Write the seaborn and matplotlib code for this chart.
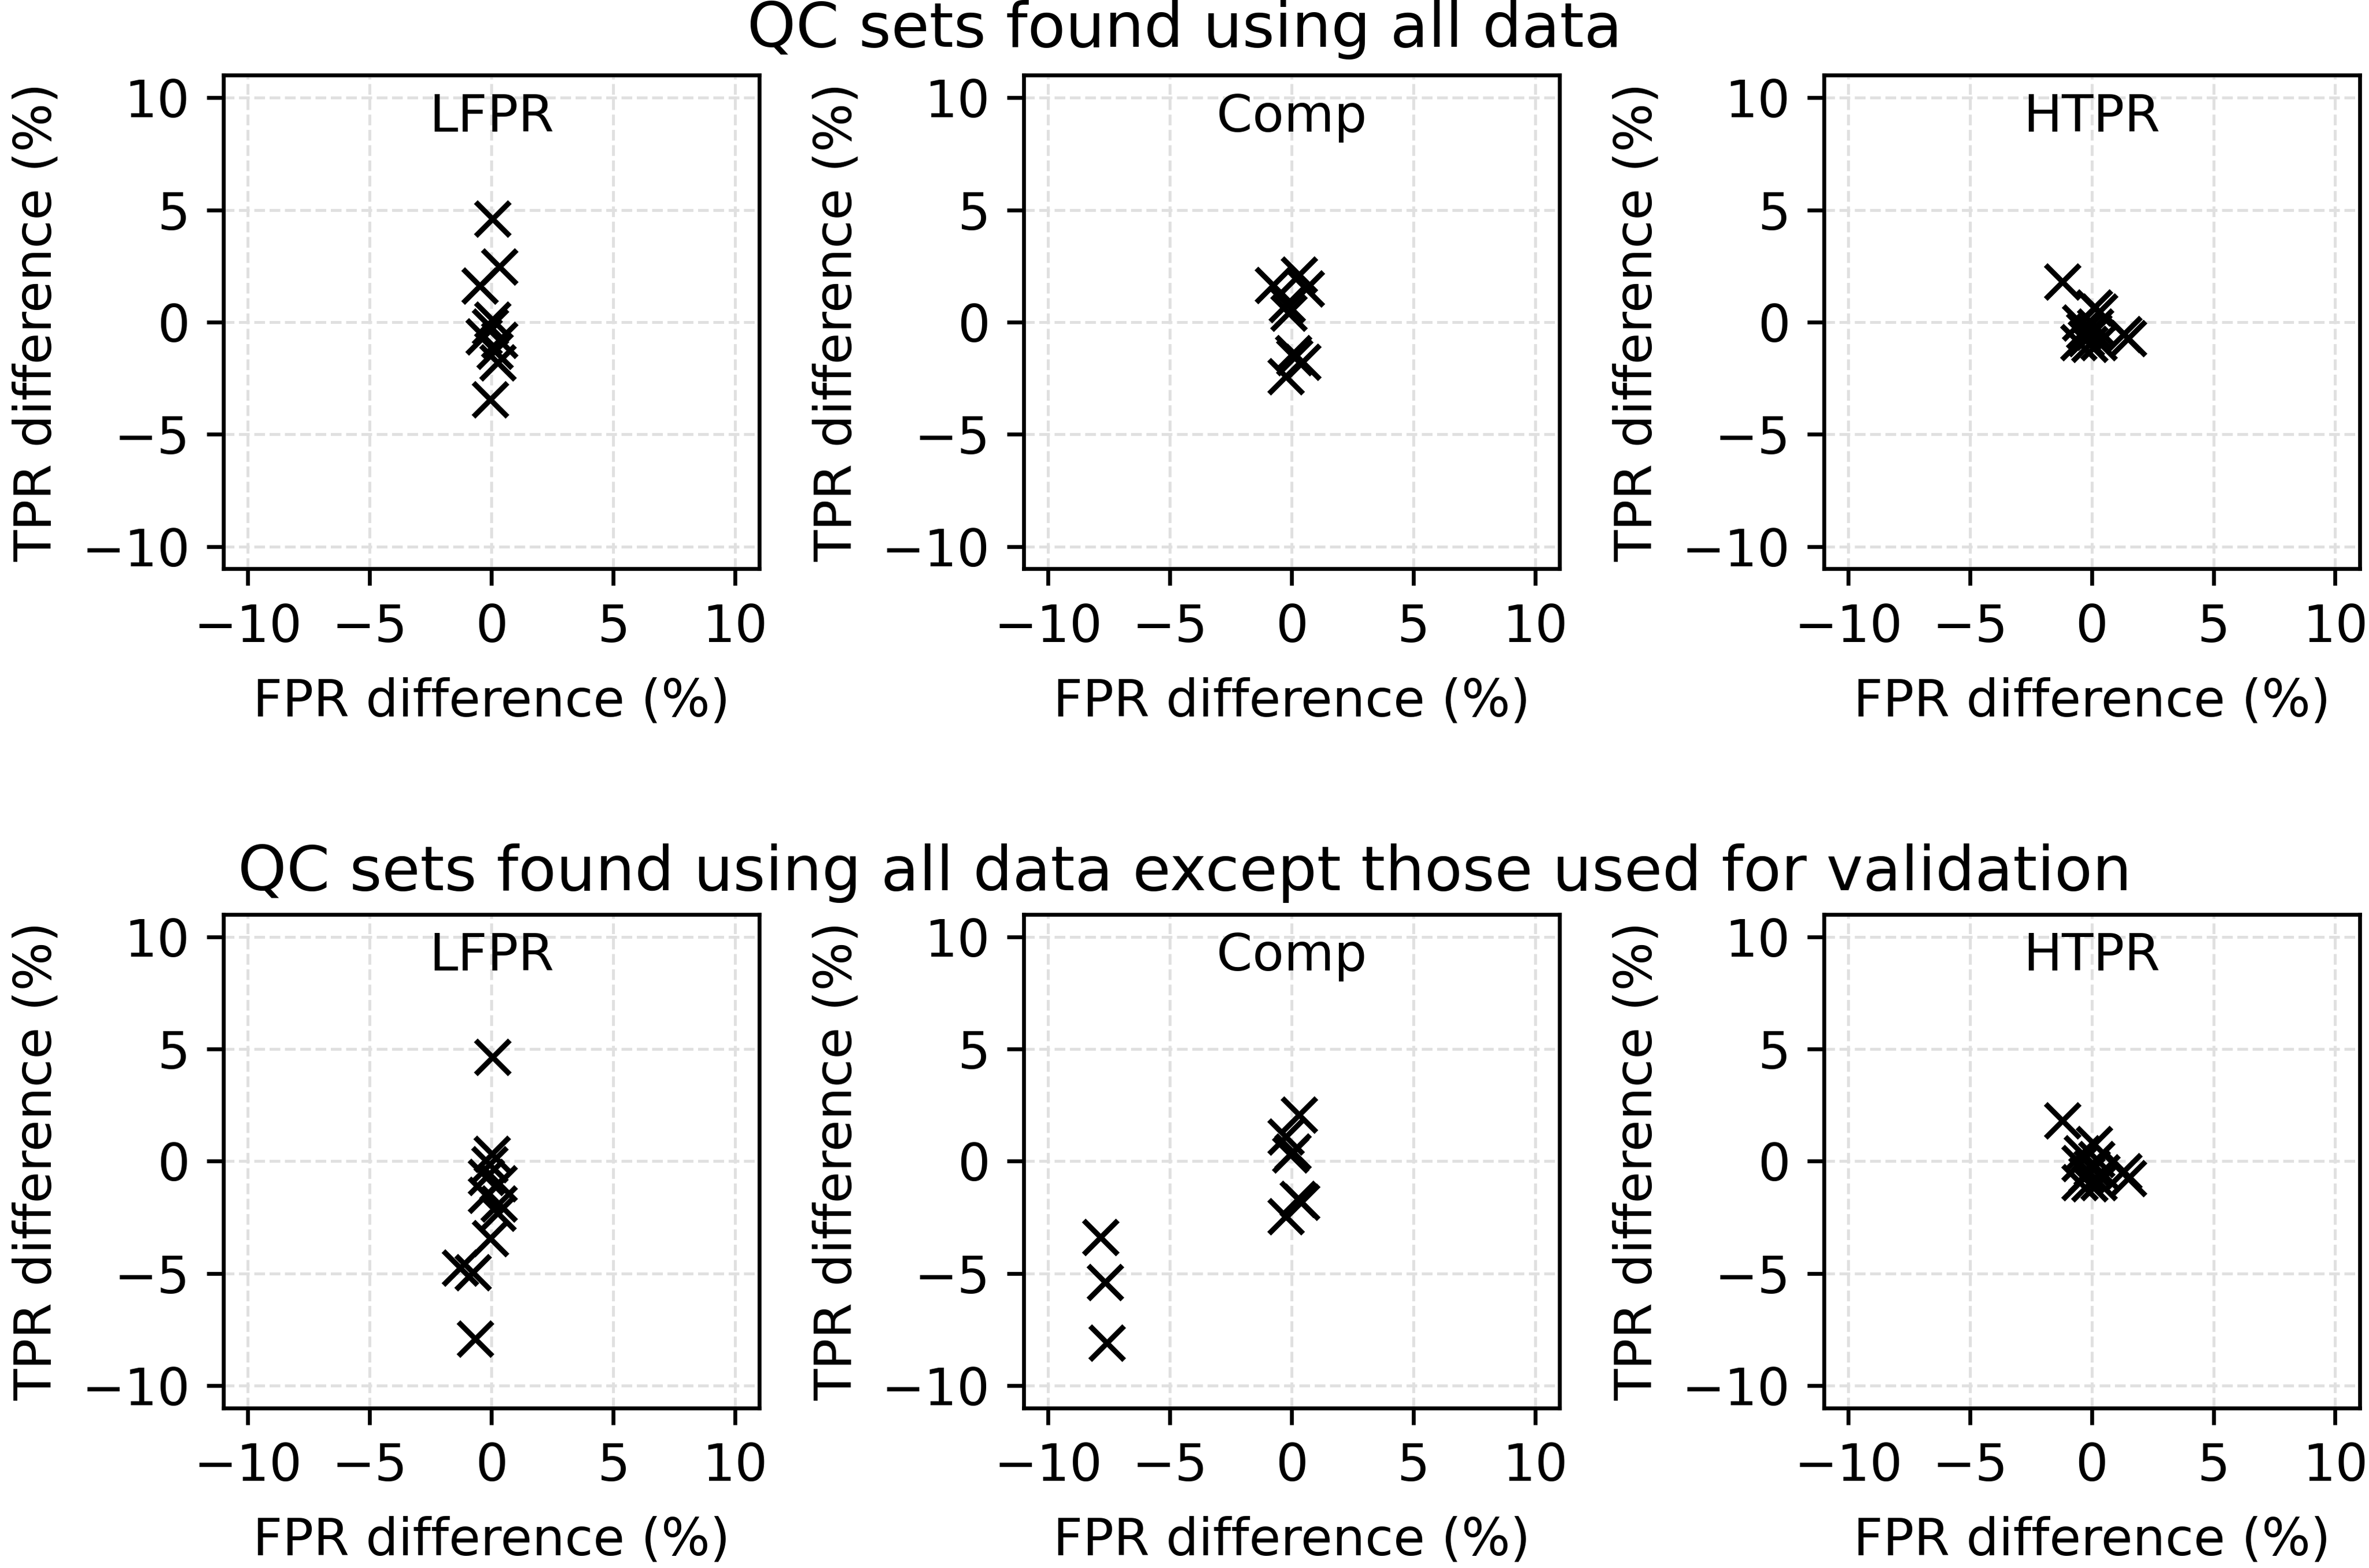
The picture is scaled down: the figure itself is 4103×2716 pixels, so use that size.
import numpy as np
import pandas as pd
import matplotlib
matplotlib.use("Agg")
import matplotlib.pyplot as plt
import seaborn as sns

# panel names
methods = ["LFPR", "Comp", "HTPR"]
row_titles = ["QC sets found using all data",
              "QC sets found using all data except those used for validation"]

# top row: QC sets found using all data
lfpr_all_fpr = [0.05, 0.32, -0.47, 0.04, -0.05, -0.30, 0.34, 0.26, 0.14, -0.04]
lfpr_all_tpr = [4.60, 2.46, 1.62, 0.10, -0.20, -0.64, -0.80, -1.80, -1.30, -3.46]
comp_all_fpr = [-0.75, 0.32, 0.60, -0.20, -0.12, 0.08, 0.44, -0.24, 0.12]
comp_all_tpr = [1.64, 2.10, 1.50, 0.80, 0.42, -1.40, -1.78, -2.42, -1.56]
htpr_all_fpr = [-1.21, 0.10, 0.32, -0.48, 0.08, -0.24, -0.55, -0.08, 0.30, 1.30, 1.51, 0.15, -0.30]
htpr_all_tpr = [1.79, 0.64, 0.47, -0.04, -0.45, -0.73, -0.90, -0.98, -0.90, -0.55, -0.73, -0.20, -0.40]

# bottom row: all data except validation
lfpr_val_fpr = [0.05, 0.02, -0.07, -0.21, 0.30, -0.21, 0.30, 0.26, -0.04, -1.29, -0.77, -0.67]
lfpr_val_tpr = [4.65, 0.32, -0.13, -0.72, -1.00, -1.50, -1.90, -2.30, -3.43, -4.76, -4.96, -7.92]
comp_val_fpr = [-7.86, -7.67, -7.60, 0.32, -0.23, 0.05, -0.05, 0.27, -0.23, 0.40]
comp_val_tpr = [-3.39, -5.40, -8.09, 2.08, 1.09, 0.42, 0.29, -1.68, -2.45, -1.82]
htpr_val_fpr = [-1.21, 0.10, -0.40, 0.20, -0.50, 0.00, -0.20, -0.50, -0.10, 0.30, 1.30, 1.50, 0.40]
htpr_val_tpr = [1.82, 0.75, 0.35, 0.10, -0.10, -0.30, -0.60, -0.95, -1.00, -0.95, -0.45, -0.75, -0.50]

ticks = [-10, -5, 0, 5, 10]

sns.set_style("ticks")
plt.rcParams['font.family'] = ['DejaVu Sans']
plt.rcParams['font.size'] = 10.7
plt.rcParams['text.color'] = 'black'
plt.rcParams['axes.labelcolor'] = 'black'
plt.rcParams['axes.edgecolor'] = 'black'
plt.rcParams['xtick.color'] = 'black'
plt.rcParams['ytick.color'] = 'black'
plt.rcParams['axes.linewidth'] = 0.8
plt.rcParams['xtick.major.width'] = 0.8
plt.rcParams['ytick.major.width'] = 0.8
plt.rcParams['xtick.major.size'] = 3.5
plt.rcParams['ytick.major.size'] = 3.5

rows = [
    [(lfpr_all_fpr, lfpr_all_tpr), (comp_all_fpr, comp_all_tpr), (htpr_all_fpr, htpr_all_tpr)],
    [(lfpr_val_fpr, lfpr_val_tpr), (comp_val_fpr, comp_val_tpr), (htpr_val_fpr, htpr_val_tpr)],
]

fig, axes = plt.subplots(2, 3, figsize=(4103 / 600, 2716 / 600))
fig.subplots_adjust(left=0.0944, right=0.996, top=0.952, bottom=0.102,
                    wspace=0.494, hspace=0.70)

for r, row in enumerate(rows):
    for c, (fpr, tpr) in enumerate(row):
        ax = axes[r, c]
        df = pd.DataFrame({"fpr": fpr, "tpr": tpr})
        ax.grid(True, ls="--", color="#e0e0e0", lw=0.6, zorder=0)
        ax.set_axisbelow(True)
        sns.scatterplot(data=df, x="fpr", y="tpr", ax=ax, marker="x",
                        color="black", s=50, linewidth=1.1, zorder=3)
        ax.set_xlim(-11, 11)
        ax.set_ylim(-11, 11)
        ax.set_xticks(ticks)
        ax.set_yticks(ticks)
        ax.set_xlabel("FPR difference (%)", labelpad=5)
        ax.set_ylabel("TPR difference (%)")
        ax.text(0.5, 0.915, methods[c], transform=ax.transAxes,
                ha="center", va="center")
        for sp in ax.spines.values():
            sp.set_visible(True)

fig.text(0.5, 0.981, row_titles[0], ha="center", va="center", fontsize=12.9)
fig.text(0.5, 0.443, row_titles[1], ha="center", va="center", fontsize=12.9)

fig.savefig("out.png", dpi=600)
